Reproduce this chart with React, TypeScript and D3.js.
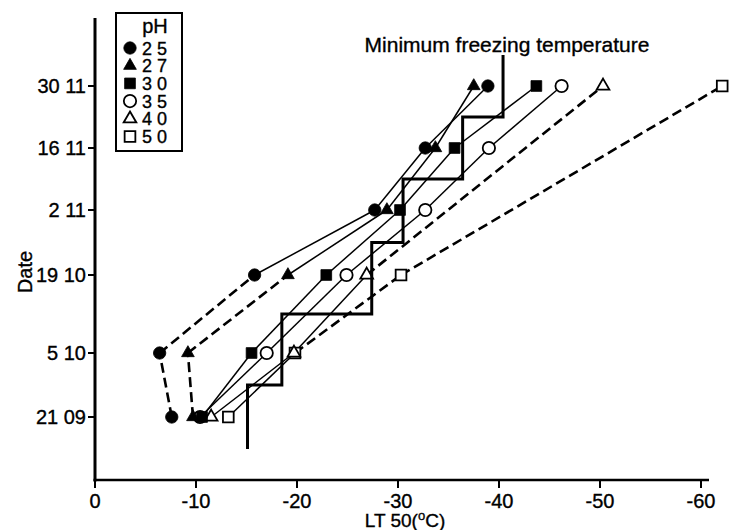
import React from "react";
import * as d3 from "d3";

// Sampling dates (day month) and axis ticks
const dateLabels = ["21 09", "5 10", "19 10", "2 11", "16 11", "30 11"];
const xTicks = [0, -10, -20, -30, -40, -50, -60];
const phLabels = ["2 5", "2 7", "3 0", "3 5", "4 0", "5 0"];

// LT50 (°C) per sampling date for each pH treatment (null = not measured)
const lt50pH25 = [-7.6, -6.4, -15.8, -27.7, -32.7, -38.9];
const lt50pH27 = [-9.7, -9.2, -19.1, -28.9, -33.7, -37.5];
const lt50pH30 = [-10.6, -15.5, -22.9, -30.2, -35.6, -43.7];
const lt50pH35 = [-10.4, -17.0, -24.9, -32.7, -39.0, -46.2];
const lt50pH40 = [-11.5, -19.7, -26.9, null, null, -50.3];
const lt50pH50 = [-13.2, -19.8, -30.3, null, null, -62.1];

// Minimum freezing temperature reached during each sampling period
const minFreezing = [-15.1, -18.5, -27.4, -30.5, -36.4, -40.4];

type Shape = "circle" | "triangle" | "square";

const series: {
  label: string;
  values: (number | null)[];
  shape: Shape;
  filled: boolean;
  dashed: boolean[];
}[] = [
  { label: phLabels[0], values: lt50pH25, shape: "circle", filled: true, dashed: [true, true, false, false, false] },
  { label: phLabels[1], values: lt50pH27, shape: "triangle", filled: true, dashed: [true, true, false, false, false] },
  { label: phLabels[2], values: lt50pH30, shape: "square", filled: true, dashed: [false, false, false, false, false] },
  { label: phLabels[3], values: lt50pH35, shape: "circle", filled: false, dashed: [false, false, false, false, false] },
  { label: phLabels[4], values: lt50pH40, shape: "triangle", filled: false, dashed: [false, false, true] },
  { label: phLabels[5], values: lt50pH50, shape: "square", filled: false, dashed: [false, true, true] },
];

const FONT = "'Liberation Sans', Arial, Helvetica, sans-serif";

const symbolType: Record<Shape, d3.SymbolType> = {
  circle: d3.symbolCircle,
  triangle: d3.symbolTriangle,
  square: d3.symbolSquare,
};
const symbolSize: Record<Shape, number> = { circle: 120, triangle: 70, square: 115 };

function Marker({ shape, filled, cx, cy }: { shape: Shape; filled: boolean; cx: number; cy: number }) {
  const path = d3.symbol().type(symbolType[shape]).size(symbolSize[shape])() as string;
  return (
    <path
      d={path}
      transform={`translate(${cx},${cy})`}
      fill={filled ? "#000" : "#fff"}
      stroke="#000"
      strokeWidth={filled ? 0.8 : 1.8}
    />
  );
}

export default function App() {
  const W = 731;
  const H = 530;
  const x = d3.scaleLinear().domain([0, -60]).range([95, 701]);
  const y = d3.scaleLinear().domain([0, 1, 2, 3, 4, 5]).range([417, 353, 275, 210, 148, 86]);
  const axisX0 = 95;
  const axisY0 = 480;

  const line = d3
    .line<[number, number]>()
    .x((d) => x(d[1]))
    .y((d) => y(d[0]));

  const stepPts: [number, number][] = [];
  minFreezing.forEach((v, i) => {
    stepPts.push([i - 0.5, v]);
    stepPts.push([i + 0.5, v]);
  });

  const segments = series.flatMap((s, si) => {
    const pts = s.values
      .map((v, i) => (v == null ? null : ([i, v] as [number, number])))
      .filter((p): p is [number, number] => p !== null);
    return pts.slice(1).map((p, k) => ({ key: `${si}-${k}`, d: line([pts[k], p]) as string, dashed: s.dashed[k] }));
  });

  const drawOrder = [...series].reverse();
  const textStyle = { fill: "#000", stroke: "#000", strokeWidth: 0.35 };

  return (
    <svg
      width={W}
      height={H}
      viewBox={`0 0 ${W} ${H}`}
      style={{ position: "absolute", left: 0, top: 0, background: "#fff" }}
      fontFamily={FONT}
    >
      <rect width={W} height={H} fill="#fff" />

      {/* axes */}
      <line x1={axisX0} y1={18} x2={axisX0} y2={axisY0 + 1.5} stroke="#000" strokeWidth={3} />
      <line x1={axisX0 - 1.5} y1={axisY0} x2={709} y2={axisY0} stroke="#000" strokeWidth={2.5} />

      {dateLabels.map((lab, i) => (
        <g key={lab}>
          <line x1={axisX0 - 7} x2={axisX0} y1={y(i)} y2={y(i)} stroke="#000" strokeWidth={2} />
          <text x={axisX0 - 9} y={y(i) + 7} textAnchor="end" fontSize={20} {...textStyle}>
            {lab}
          </text>
        </g>
      ))}
      {xTicks.map((t) => (
        <g key={t}>
          <line x1={x(t)} x2={x(t)} y1={axisY0} y2={axisY0 + 8} stroke="#000" strokeWidth={2} />
          <text x={x(t)} y={508} textAnchor="middle" fontSize={20} {...textStyle}>
            {t === 0 ? "0" : `-${Math.abs(t)}`}
          </text>
        </g>
      ))}
      <text x={405} y={527} textAnchor="middle" fontSize={19} {...textStyle}>
        LT 50(
        <tspan fontSize={13} dy={-7}>
          o
        </tspan>
        <tspan dy={7}>C)</tspan>
      </text>
      <text transform="translate(32,272) rotate(-90)" textAnchor="middle" fontSize={20} {...textStyle}>
        Date
      </text>

      {/* LT50 lines */}
      {segments.map((sg) => (
        <path
          key={sg.key}
          d={sg.d}
          fill="none"
          stroke="#000"
          strokeWidth={sg.dashed ? 2.6 : 1.5}
          strokeDasharray={sg.dashed ? "10 5" : undefined}
        />
      ))}

      {/* markers */}
      {drawOrder.map((s) =>
        s.values.map((v, i) =>
          v == null ? null : (
            <Marker key={`${s.label}-${i}`} shape={s.shape} filled={s.filled} cx={x(v)} cy={y(i)} />
          )
        )
      )}

      {/* minimum freezing temperature step line */}
      <path d={line(stepPts) as string} fill="none" stroke="#000" strokeWidth={3} strokeLinejoin="miter" />
      <text x={507} y={52} textAnchor="middle" fontSize={21} {...textStyle}>
        Minimum freezing temperature
      </text>

      {/* legend */}
      <rect x={116} y={13} width={66} height={138} fill="#fff" stroke="#000" strokeWidth={2} />
      <text x={155} y={33} textAnchor="middle" fontSize={20} {...textStyle}>
        pH
      </text>
      {series.map((s, i) => {
        const cy = 48 + i * 17.7;
        return (
          <g key={s.label}>
            <Marker shape={s.shape} filled={s.filled} cx={130} cy={cy} />
            <text x={142} y={cy + 6.5} fontSize={18} {...textStyle}>
              {s.label}
            </text>
          </g>
        );
      })}
    </svg>
  );
}
